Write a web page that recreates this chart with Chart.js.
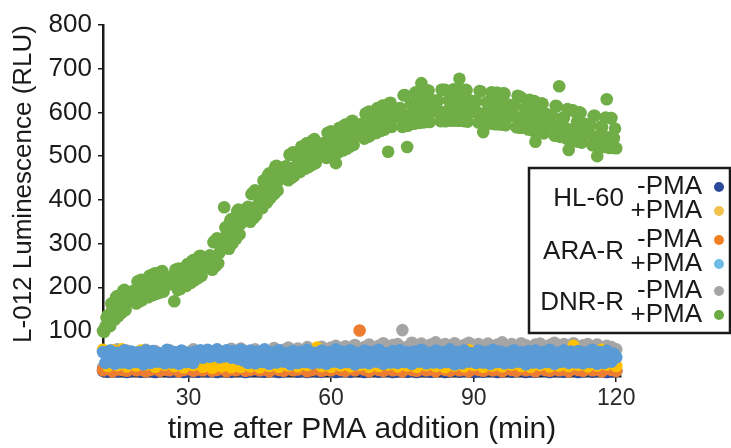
<!DOCTYPE html>
<html>
<head>
<meta charset="utf-8">
<title>L-012 Luminescence</title>
<script src="https://cdn.jsdelivr.net/npm/chart.js@4.4.1/dist/chart.umd.min.js"></script>
<style>
    html, body { margin: 0; padding: 0; background: #fff; }
    #luminescence { display: block; }
</style>
</head>
<body>
<canvas id="luminescence" width="731" height="448"></canvas>
<script>
//读数时间点 (min)，半分钟一次
var timesHalf = [
    12, 12.5, 13, 13.5, 14, 14.5, 15, 15.5, 16, 16.5,
    17, 17.5, 18, 18.5, 19, 19.5, 20, 20.5, 21, 21.5,
    22, 22.5, 23, 23.5, 24, 24.5, 25, 25.5, 26, 26.5,
    27, 27.5, 28, 28.5, 29, 29.5, 30, 30.5, 31, 31.5,
    32, 32.5, 33, 33.5, 34, 34.5, 35, 35.5, 36, 36.5,
    37, 37.5, 38, 38.5, 39, 39.5, 40, 40.5, 41, 41.5,
    42, 42.5, 43, 43.5, 44, 44.5, 45, 45.5, 46, 46.5,
    47, 47.5, 48, 48.5, 49, 49.5, 50, 50.5, 51, 51.5,
    52, 52.5, 53, 53.5, 54, 54.5, 55, 55.5, 56, 56.5,
    57, 57.5, 58, 58.5, 59, 59.5, 60, 60.5, 61, 61.5,
    62, 62.5, 63, 63.5, 64, 64.5, 65, 65.5, 66, 66.5,
    67, 67.5, 68, 68.5, 69, 69.5, 70, 70.5, 71, 71.5,
    72, 72.5, 73, 73.5, 74, 74.5, 75, 75.5, 76, 76.5,
    77, 77.5, 78, 78.5, 79, 79.5, 80, 80.5, 81, 81.5,
    82, 82.5, 83, 83.5, 84, 84.5, 85, 85.5, 86, 86.5,
    87, 87.5, 88, 88.5, 89, 89.5, 90, 90.5, 91, 91.5,
    92, 92.5, 93, 93.5, 94, 94.5, 95, 95.5, 96, 96.5,
    97, 97.5, 98, 98.5, 99, 99.5, 100, 100.5, 101, 101.5,
    102, 102.5, 103, 103.5, 104, 104.5, 105, 105.5, 106, 106.5,
    107, 107.5, 108, 108.5, 109, 109.5, 110, 110.5, 111, 111.5,
    112, 112.5, 113, 113.5, 114, 114.5, 115, 115.5, 116, 116.5,
    117, 117.5, 118, 118.5, 119, 119.5, 120
];

//绿色那组两次读数之间的读数时间点 (min)
var timesHalfShifted = [
    12.25, 12.75, 13.25, 13.75, 14.25, 14.75, 15.25, 15.75, 16.25, 16.75,
    17.25, 17.75, 18.25, 18.75, 19.25, 19.75, 20.25, 20.75, 21.25, 21.75,
    22.25, 22.75, 23.25, 23.75, 24.25, 24.75, 25.25, 25.75, 26.25, 26.75,
    27.25, 27.75, 28.25, 28.75, 29.25, 29.75, 30.25, 30.75, 31.25, 31.75,
    32.25, 32.75, 33.25, 33.75, 34.25, 34.75, 35.25, 35.75, 36.25, 36.75,
    37.25, 37.75, 38.25, 38.75, 39.25, 39.75, 40.25, 40.75, 41.25, 41.75,
    42.25, 42.75, 43.25, 43.75, 44.25, 44.75, 45.25, 45.75, 46.25, 46.75,
    47.25, 47.75, 48.25, 48.75, 49.25, 49.75, 50.25, 50.75, 51.25, 51.75,
    52.25, 52.75, 53.25, 53.75, 54.25, 54.75, 55.25, 55.75, 56.25, 56.75,
    57.25, 57.75, 58.25, 58.75, 59.25, 59.75, 60.25, 60.75, 61.25, 61.75,
    62.25, 62.75, 63.25, 63.75, 64.25, 64.75, 65.25, 65.75, 66.25, 66.75,
    67.25, 67.75, 68.25, 68.75, 69.25, 69.75, 70.25, 70.75, 71.25, 71.75,
    72.25, 72.75, 73.25, 73.75, 74.25, 74.75, 75.25, 75.75, 76.25, 76.75,
    77.25, 77.75, 78.25, 78.75, 79.25, 79.75, 80.25, 80.75, 81.25, 81.75,
    82.25, 82.75, 83.25, 83.75, 84.25, 84.75, 85.25, 85.75, 86.25, 86.75,
    87.25, 87.75, 88.25, 88.75, 89.25, 89.75, 90.25, 90.75, 91.25, 91.75,
    92.25, 92.75, 93.25, 93.75, 94.25, 94.75, 95.25, 95.75, 96.25, 96.75,
    97.25, 97.75, 98.25, 98.75, 99.25, 99.75, 100.25, 100.75, 101.25, 101.75,
    102.25, 102.75, 103.25, 103.75, 104.25, 104.75, 105.25, 105.75, 106.25, 106.75,
    107.25, 107.75, 108.25, 108.75, 109.25, 109.75, 110.25, 110.75, 111.25, 111.75,
    112.25, 112.75, 113.25, 113.75, 114.25, 114.75, 115.25, 115.75, 116.25, 116.75,
    117.25, 117.75, 118.25, 118.75, 119.25, 119.75
];

//读数时间点 (min)，一分钟一次
var timesOne = [
    12, 13, 14, 15, 16, 17, 18, 19, 20, 21,
    22, 23, 24, 25, 26, 27, 28, 29, 30, 31,
    32, 33, 34, 35, 36, 37, 38, 39, 40, 41,
    42, 43, 44, 45, 46, 47, 48, 49, 50, 51,
    52, 53, 54, 55, 56, 57, 58, 59, 60, 61,
    62, 63, 64, 65, 66, 67, 68, 69, 70, 71,
    72, 73, 74, 75, 76, 77, 78, 79, 80, 81,
    82, 83, 84, 85, 86, 87, 88, 89, 90, 91,
    92, 93, 94, 95, 96, 97, 98, 99, 100, 101,
    102, 103, 104, 105, 106, 107, 108, 109, 110, 111,
    112, 113, 114, 115, 116, 117, 118, 119, 120
];

//坐标轴刻度
var xTicks = [30, 60, 90, 120];
var yTicks = [100, 200, 300, 400, 500, 600, 700, 800];

//图例的分组
var cellLines = ["HL-60", "ARA-R", "DNR-R"];
var treatments = ["-PMA", "+PMA"];

//HL-60 -PMA (timesOne)
var hl60Minus = [
    9, 7, 10, 8, 11, 6, 9, 10, 7, 8,
    10, 6, 9, 11, 7, 8, 10, 6, 9, 8,
    7, 11, 8, 9, 6, 10, 8, 7, 11, 9,
    6, 9, 10, 8, 7, 11, 9, 6, 8, 10,
    11, 7, 9, 6, 10, 8, 7, 11, 9, 6,
    8, 10, 7, 9, 11, 6, 8, 10, 7, 9,
    10, 6, 8, 11, 7, 9, 6, 10, 8, 7,
    9, 11, 6, 8, 10, 7, 9, 11, 6, 8,
    7, 10, 9, 6, 8, 11, 7, 9, 10, 6,
    8, 7, 11, 9, 6, 10, 8, 7, 9, 11,
    6, 8, 10, 7, 9, 11, 6, 8, 9
];

//HL-60 +PMA (timesOne)
var hl60Plus = [
    57, 20, 56, 22, 58, 19, 40, 21, 55, 24,
    38, 18, 46, 23, 36, 20, 44, 17, 39, 22,
    35, 18, 24, 16, 22, 19, 25, 17, 21, 18,
    40, 19, 36, 17, 42, 20, 34, 18, 45, 21,
    38, 19, 44, 22, 36, 62, 20, 41, 18, 37,
    21, 43, 19, 35, 22, 46, 18, 40, 20, 38,
    23, 44, 19, 36, 21, 48, 18, 39, 22, 42,
    20, 37, 17, 45, 21, 40, 19, 56, 22, 43,
    18, 38, 21, 46, 19, 41, 23, 36, 20, 44,
    18, 39, 22, 47, 19, 42, 21, 52, 20, 66,
    22, 45, 19, 40, 21, 57, 23, 41, 20
];

//ARA-R -PMA (timesOne)
var araMinus = [
    10, 13, 8, 12, 11, 9, 14, 10, 12, 8,
    11, 13, 9, 12, 10, 14, 8, 11, 13, 9,
    12, 10, 14, 9, 11, 13, 8, 12, 10, 14,
    9, 11, 13, 10, 12, 8, 14, 11, 9, 13,
    10, 12, 14, 8, 11, 13, 9, 12, 10, 14,
    11, 9, 13, 10, 101, 12, 8, 14, 11, 9,
    13, 10, 12, 8, 14, 11, 9, 13, 10, 12,
    8, 14, 11, 9, 13, 10, 12, 8, 14, 11,
    9, 13, 10, 12, 8, 14, 11, 9, 13, 10,
    12, 8, 14, 11, 9, 13, 10, 12, 8, 14,
    11, 9, 13, 10, 12, 8, 14, 11, 9
];

//ARA-R +PMA (timesHalf)
var araPlus = [
    52, 27, 41, 55, 38, 25, 50, 42, 28, 56,
    39, 26, 53, 43, 29, 51, 37, 24, 55, 40,
    27, 54, 41, 30, 49, 38, 26, 57, 43, 28,
    52, 36, 25, 55, 42, 29, 50, 39, 27, 53,
    44, 56, 39, 48, 57, 41, 52, 45, 58, 40,
    50, 42, 56, 46, 39, 54, 44, 36, 57, 33,
    42, 27, 55, 38, 26, 53, 41, 29, 58, 37,
    25, 51, 40, 28, 56, 43, 30, 49, 38, 24,
    54, 41, 27, 52, 37, 29, 57, 42, 26, 50,
    39, 28, 55, 43, 25, 51, 40, 30, 58, 36,
    27, 53, 42, 29, 56, 38, 24, 50, 41, 28,
    55, 37, 26, 52, 43, 30, 57, 39, 25, 49,
    41, 28, 54, 38, 27, 56, 42, 29, 51, 37,
    25, 53, 40, 30, 57, 43, 26, 50, 39, 28,
    55, 42, 27, 52, 36, 29, 58, 41, 24, 51,
    38, 26, 56, 43, 30, 49, 40, 27, 55, 37,
    28, 52, 41, 25, 57, 39, 29, 53, 42, 26,
    50, 38, 27, 56, 43, 30, 51, 40, 24, 54,
    41, 28, 55, 37, 26, 52, 43, 29, 57, 39,
    25, 50, 42, 30, 56, 38, 27, 53, 41, 28,
    54, 40, 26, 51, 37, 29, 57, 43, 25, 52,
    39, 27, 55, 42, 30, 48, 40
];

//DNR-R -PMA (timesOne)
var dnrMinus = [
    16, 52, 15, 58, 18, 55, 14, 50, 17, 57,
    20, 54, 48, 22, 56, 44, 19, 53, 46, 58,
    50, 24, 55, 47, 57, 26, 52, 59, 45, 60,
    54, 28, 58, 49, 56, 30, 61, 52, 57, 62,
    48, 60, 55, 63, 50, 58, 64, 53, 62, 66,
    57, 65, 60, 68, 56, 63, 69, 58, 66, 72,
    62, 68, 70, 102, 64, 73, 67, 71, 60, 69,
    74, 63, 70, 66, 72, 61, 68, 73, 64, 70,
    66, 71, 62, 69, 74, 65, 70, 60, 72, 67,
    63, 69, 71, 64, 68, 73, 61, 70, 66, 72,
    62, 67, 70, 64, 69, 60, 66, 63, 58
];

//DNR-R +PMA (timesHalf)
var dnrPlus = [
    100, 110, 136, 111, 151, 126, 180, 153, 142, 194,
    166, 186, 173, 192, 163, 214, 217, 188, 206, 177,
    211, 182, 232, 202, 188, 237, 206, 223, 207, 224,
    168, 241, 243, 213, 232, 203, 239, 210, 262, 233,
    221, 272, 244, 264, 252, 273, 240, 306, 312, 279,
    306, 383, 321, 288, 356, 323, 311, 378, 345, 372,
    358, 384, 350, 416, 422, 388, 415, 381, 428, 394,
    461, 427, 413, 478, 444, 469, 455, 477, 445, 505,
    509, 476, 498, 464, 505, 471, 530, 496, 480, 539,
    505, 525, 510, 530, 496, 554, 557, 522, 484, 508,
    548, 513, 572, 538, 522, 581, 547, 568, 553, 574,
    540, 599, 602, 567, 588, 553, 593, 558, 616, 581,
    510, 622, 587, 607, 591, 610, 567, 640, 521, 595,
    621, 574, 623, 576, 667, 601, 578, 650, 603, 627,
    603, 627, 580, 652, 652, 604, 629, 581, 629, 581,
    677, 604, 580, 651, 603, 626, 602, 625, 577, 648,
    555, 599, 623, 574, 622, 573, 645, 596, 572, 643,
    594, 617, 592, 615, 566, 637, 634, 587, 608, 561,
    605, 558, 533, 578, 554, 620, 574, 595, 572, 593,
    547, 614, 660, 566, 587, 540, 514, 537, 604, 557,
    533, 599, 553, 573, 550, 571, 525, 592, 500, 545,
    566, 521, 630, 519, 587, 541, 518
];

//DNR-R +PMA (timesHalfShifted)
var dnrPlusShifted = [
    98, 130, 124, 163, 139, 177, 134, 172, 192, 148,
    184, 172, 191, 178, 213, 168, 171, 205, 192, 226,
    197, 231, 185, 219, 236, 190, 222, 207, 223, 208,
    240, 194, 196, 230, 217, 253, 225, 260, 216, 251,
    271, 226, 262, 250, 270, 259, 303, 249, 255, 302,
    290, 337, 305, 352, 300, 347, 374, 321, 368, 355,
    381, 367, 413, 359, 365, 411, 398, 444, 411, 457,
    404, 450, 476, 421, 466, 451, 475, 461, 503, 451,
    455, 496, 481, 522, 488, 528, 475, 515, 537, 484,
    524, 508, 529, 513, 553, 499, 502, 541, 526, 565,
    531, 570, 517, 557, 579, 526, 566, 551, 572, 557,
    597, 544, 547, 586, 571, 610, 576, 615, 561, 600,
    621, 567, 606, 590, 609, 593, 639, 569, 570, 620,
    597, 646, 599, 648, 577, 625, 650, 578, 627, 603,
    627, 603, 652, 580, 580, 628, 605, 653, 605, 653,
    581, 628, 652, 579, 627, 602, 626, 601, 649, 576,
    576, 623, 599, 646, 598, 645, 573, 620, 644, 571,
    618, 593, 616, 591, 638, 565, 565, 609, 585, 629,
    582, 626, 556, 600, 621, 552, 596, 573, 594, 571,
    615, 546, 544, 588, 564, 608, 561, 605, 535, 579,
    600, 531, 574, 551, 571, 548, 592, 523, 522, 567,
    544, 588, 543, 587, 519, 563
];

//点的颜色（图中）和图例圆点颜色
var seriesColors = ["#2C4B9C", "#FFC000", "#ED7D31", "#5B9BD5", "#A5A5A5", "#70AD47"];
var legendColors = ["#2B4A9B", "#F2C14E", "#F08021", "#6BBDE6", "#A5A5A5", "#6CAA45"];

/**
 * 把时间和读数配成散点
 */
function toPoints(times, values) {
    var points = [];
    for (var i = 0; i < values.length; i++) {
        points.push({x: times[i], y: values[i]});
    }
    return points;
}

/**
 * 右侧的图例框
 */
var legendBox = {
    id: "legendBox",
    afterDraw: function (chart) {
        var ctx = chart.ctx;
        ctx.save();
        ctx.fillStyle = "#fff";
        ctx.fillRect(529, 168, 201, 165);
        ctx.lineWidth = 2.5;
        ctx.strokeStyle = "#1a1a1a";
        ctx.strokeRect(529, 168, 201, 165);

        ctx.textAlign = "right";
        ctx.textBaseline = "middle";
        ctx.font = "26px 'Liberation Sans', Arial, sans-serif";
        var groupY = [199, 252, 303];
        for (var g = 0; g < cellLines.length; g++) {
            ctx.fillStyle = "#1a1a1a";
            ctx.fillText(cellLines[g], 624, groupY[g]);
            for (var t = 0; t < treatments.length; t++) {
                var y = groupY[g] - 12 + t * 24;
                ctx.fillStyle = "#1a1a1a";
                ctx.fillText(treatments[t], 702, y);
                ctx.beginPath();
                ctx.arc(719, y, 5, 0, Math.PI * 2);
                ctx.fillStyle = legendColors[g * 2 + t];
                ctx.fill();
            }
        }
        ctx.restore();
    }
};

/**
 * 添加 L-012 发光的散点图
 */
function addLuminescenceChart() {
    var ctx = document.getElementById("luminescence").getContext("2d");

    //color 是 seriesColors 的下标，最后两组都是 DNR-R +PMA
    var series = [
        {times: timesOne, values: hl60Minus, color: 0, order: 5},
        {times: timesOne, values: hl60Plus, color: 1, order: 3},
        {times: timesOne, values: araMinus, color: 2, order: 4},
        {times: timesHalf, values: araPlus, color: 3, order: 2},
        {times: timesOne, values: dnrMinus, color: 4, order: 6},
        {times: timesHalf, values: dnrPlus, color: 5, order: 1},
        {times: timesHalfShifted, values: dnrPlusShifted, color: 5, order: 1}
    ];

    var datasets = [];
    for (var i = 0; i < series.length; i++) {
        var c = series[i].color;
        datasets.push({
            label: cellLines[Math.floor(c / 2)] + " " + treatments[c % 2],
            data: toPoints(series[i].times, series[i].values),
            order: series[i].order,
            backgroundColor: seriesColors[c],
            borderColor: seriesColors[c],
            pointRadius: 6.3,
            pointBorderWidth: 0,
            clip: false
        });
    }

    var chart = new Chart(ctx, {
        type: "scatter",
        data: {datasets: datasets},
        options: {
            responsive: false,
            animation: false,
            layout: {padding: {top: 25, right: 110, left: 0, bottom: 0}},
            plugins: {
                legend: {display: false},
                tooltip: {enabled: false}
            },
            scales: {
                x: {
                    type: "linear",
                    min: 12,
                    max: 121,
                    afterFit: function (scale) { scale.height = 72; },
                    afterBuildTicks: function (scale) {
                        scale.ticks = xTicks.map(function (v) { return {value: v}; });
                    },
                    border: {display: true, color: "#1a1a1a", width: 2.5},
                    grid: {drawOnChartArea: false, color: "#1a1a1a", lineWidth: 1.5, tickLength: 6},
                    ticks: {
                        color: "#2a2a2a",
                        padding: 3,
                        maxRotation: 0,
                        font: {family: "'Liberation Sans', Arial, sans-serif", size: 23}
                    },
                    title: {
                        display: true,
                        text: "time after PMA addition (min)",
                        color: "#1a1a1a",
                        padding: {top: 0, bottom: 0},
                        font: {family: "'Liberation Sans', Arial, sans-serif", size: 30}
                    }
                },
                y: {
                    type: "linear",
                    min: -3,
                    max: 800,
                    afterFit: function (scale) { scale.width = 103; },
                    afterBuildTicks: function (scale) {
                        scale.ticks = yTicks.map(function (v) { return {value: v}; });
                    },
                    border: {display: true, color: "#1a1a1a", width: 2.5},
                    grid: {drawOnChartArea: false, color: "#1a1a1a", lineWidth: 1.5, tickLength: 5},
                    ticks: {
                        color: "#1a1a1a",
                        padding: 6,
                        font: {family: "'Liberation Sans', Arial, sans-serif", size: 26}
                    },
                    title: {
                        display: true,
                        text: "L-012 Luminescence (RLU)",
                        align: "end",
                        color: "#1a1a1a",
                        padding: {top: 8, bottom: 0},
                        font: {family: "'Liberation Sans', Arial, sans-serif", size: 26}
                    }
                }
            }
        },
        plugins: [legendBox]
    });
}

//页面加载完成之后，画图表
addLuminescenceChart();
</script>
</body>
</html>
